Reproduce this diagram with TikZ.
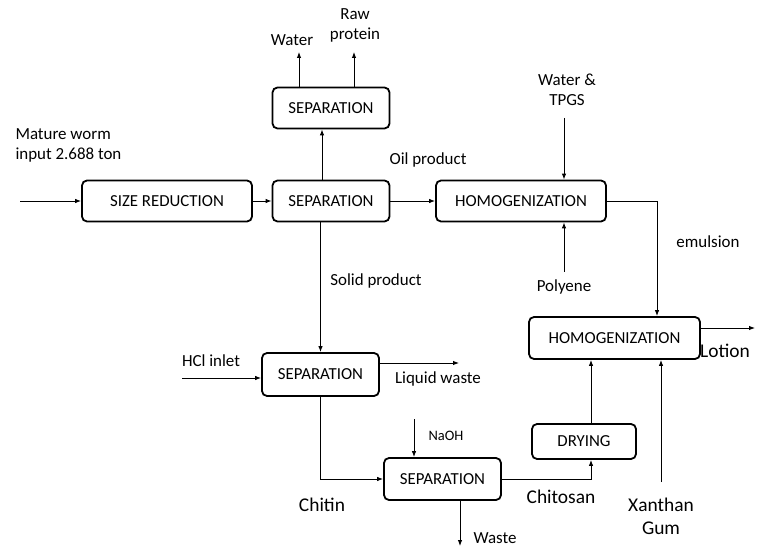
\documentclass[tikz,border=0pt]{standalone}
\usepackage{fontspec}
\setmainfont{Carlito}
\usetikzlibrary{arrows.meta}

\begin{document}
\begin{tikzpicture}[x=1bp, y=-1bp, >={Latex[length=6bp,width=4.5bp]},
  unit/.style={draw, rounded corners=5bp, line width=1.8bp, minimum height=41bp,
    font=\fontsize{16.9}{20}\selectfont},
  lbl/.style={font=\fontsize{17}{20}\selectfont, align=center},
  biglbl/.style={font=\fontsize{19.5}{23}\selectfont, align=center},
  flow/.style={->, line width=0.9bp}]

\useasboundingbox (0,0) rectangle (764,547);

% Process units
\node[unit, minimum width=170bp] (sizered) at (167,201) {SIZE REDUCTION};
\node[unit, minimum width=117bp] (sep) at (331,201) {SEPARATION};
\node[unit, minimum width=117bp] (septop) at (331,108) {SEPARATION};
\node[unit, minimum width=170bp] (homog) at (521,201) {HOMOGENIZATION};
\node[unit, minimum width=171bp, minimum height=42bp] (homogb) at (614.5,338) {HOMOGENIZATION};
\node[unit, minimum width=117bp, minimum height=43bp] (sephcl) at (320.5,374.5) {SEPARATION};
\node[unit, minimum width=117bp, minimum height=42bp] (sepnaoh) at (442.5,479) {SEPARATION};
\node[unit, minimum width=104bp, minimum height=35bp] (dry) at (584,441.5) {DRYING};

% Free ends
\coordinate (wormin) at (20,201);
\coordinate (waterout) at (299,52);
\coordinate (proteinout) at (354,52);
\coordinate (tpgsin) at (564,118);
\coordinate (polyin) at (564,272);
\coordinate (lotionout) at (755,328);
\coordinate (xanin) at (661,482);
\coordinate (hclin) at (182,378);
\coordinate (liqout) at (459,363);
\coordinate (naohin) at (414,419);
\coordinate (wasteout) at (460,546);

% Labels
\node[lbl, align=left, anchor=west] (worm) at (12,145) {Mature worm\\input 2.688 ton};
\node[lbl] (water) at (292,40) {Water};
\node[lbl] (protein) at (355,25) {Raw\\protein};
\node[lbl] (oil) at (428,160) {Oil product};
\node[lbl] (solid) at (376,281) {Solid product};
\node[lbl] (tpgs) at (567,90) {Water \&\\TPGS};
\node[lbl] (polyene) at (564,287) {Polyene};
\node[lbl] (emulsion) at (708,242) {emulsion};
\node[biglbl] (lotion) at (725,351) {Lotion};
\node[biglbl] (xanthan) at (661,516) {Xanthan\\Gum};
\node[lbl] (hcl) at (211,361) {HCl inlet};
\node[lbl] (liquid) at (438,379) {Liquid waste};
\node[biglbl] (chitin) at (322,505) {Chitin};
\node[font=\fontsize{14.5}{17}\selectfont] (naoh) at (446,436) {NaOH};
\node[lbl] (waste) at (495,538) {Waste};
\node[biglbl] (chitosan) at (561,497) {Chitosan};

% Streams
\draw[flow] (wormin) -- (sizered);
\draw[flow] (sizered) -- (sep);
\draw[flow] ([xshift=-9bp]sep.north) -- ([xshift=-9bp]septop.south);
\draw[flow] (waterout |- septop.north) -- (waterout);
\draw[flow] (proteinout |- septop.north) -- (proteinout);
\draw[flow] (sep) -- (homog);
\draw[flow] (tpgsin) -- (tpgsin |- homog.north);
\draw[flow] (polyin) -- (polyin |- homog.south);
\draw[flow] (homog.east) -| ([xshift=42.5bp]homogb.north);
\draw[flow] (homogb.east |- lotionout) -- (lotionout);
\draw[flow] (xanin) -- (xanin |- homogb.south);
\draw[flow] (sephcl.north |- sep.south) -- (sephcl.north);
\draw[flow] (hclin) -- (hclin -| sephcl.west);
\draw[flow] (sephcl.east |- liqout) -- (liqout);
\draw[flow] (sephcl.south) |- (sepnaoh.west);
\draw[flow] (naohin) -- (naohin |- sepnaoh.north);
\draw[flow] (wasteout |- sepnaoh.south) -- (wasteout);
\draw[flow] (sepnaoh.east) -| ([xshift=7bp]dry.south);
\draw[flow] ([xshift=7bp]dry.north) -- ([xshift=7bp]dry.north |- homogb.south);

\end{tikzpicture}
\end{document}
